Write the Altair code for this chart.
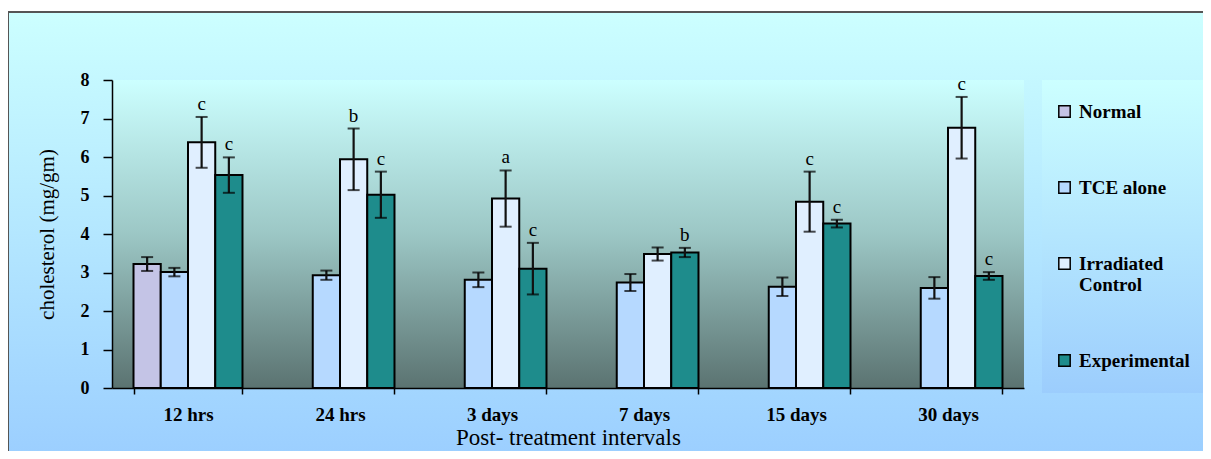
import altair as alt
import pandas as pd

categories = ["12 hrs", "24 hrs", "3 days", "7 days", "15 days", "30 days"]
groups = ["Normal", "TCE alone", "Irradiated Control", "Experimental"]

normal_mean = [3.22]
normal_err = [0.18]
tce_mean = [3.01, 2.93, 2.81, 2.74, 2.63, 2.60]
tce_err = [0.11, 0.12, 0.19, 0.22, 0.24, 0.28]
irr_mean = [6.38, 5.94, 4.92, 3.48, 4.84, 6.76]
irr_err = [0.66, 0.80, 0.73, 0.17, 0.78, 0.80]
exp_mean = [5.53, 5.02, 3.10, 3.52, 4.27, 2.91]
exp_err = [0.46, 0.60, 0.67, 0.12, 0.10, 0.10]
irr_letters = ["c", "b", "a", "", "c", "c"]
exp_letters = ["c", "c", "c", "b", "c", "c"]

group_colors = ["#c4c4e6", "#b6d9ff", "#e0efff", "#1e8c8c"]

rows = [dict(cat=categories[0], grp=groups[0], m=normal_mean[0], e=normal_err[0], letter="")]
for i, c in enumerate(categories):
    rows.append(dict(cat=c, grp=groups[1], m=tce_mean[i], e=tce_err[i], letter=""))
    rows.append(dict(cat=c, grp=groups[2], m=irr_mean[i], e=irr_err[i], letter=irr_letters[i]))
    rows.append(dict(cat=c, grp=groups[3], m=exp_mean[i], e=exp_err[i], letter=exp_letters[i]))
df = pd.DataFrame(rows)
df["lo"] = df["m"] - df["e"]
df["hi"] = df["m"] + df["e"]

FONT = "Liberation Serif"
W, H = 912, 308

x_axis = alt.Axis(
    title="Post- treatment intervals", labelAngle=0, tickBand="extent", zindex=2,
    domainColor="black", domainWidth=1.5, tickColor="black", tickWidth=1.5, tickSize=6,
    labelFont=FONT, labelFontSize=19, labelFontWeight="bold", labelColor="black", labelPadding=11,
    titleFont=FONT, titleFontSize=23, titleFontWeight="normal", titleColor="black", titlePadding=2,
)
y_axis = alt.Axis(
    title="cholesterol (mg/gm)", values=list(range(0, 9)), grid=False, zindex=2,
    domainColor="black", domainWidth=1.5, tickColor="black", tickWidth=1.5, tickSize=9,
    labelFont=FONT, labelFontSize=18, labelFontWeight="bold", labelColor="black", labelPadding=14,
    titleFont=FONT, titleFontSize=21, titleFontWeight="normal", titleColor="black", titlePadding=23,
)
y_scale = alt.Scale(domain=[0, 8], nice=False)

base = alt.Chart(df).encode(
    x=alt.X("cat:N", sort=categories, axis=x_axis,
            scale=alt.Scale(domain=categories, paddingInner=0.283, paddingOuter=0.1415)),
    xOffset=alt.XOffset("grp:N", sort=groups,
                        scale=alt.Scale(domain=groups, paddingInner=0, paddingOuter=0)),
)

bars = base.mark_bar(stroke="black", strokeWidth=2).encode(
    y=alt.Y("m:Q", scale=y_scale, axis=y_axis),
    color=alt.Color(
        "grp:N", sort=groups,
        scale=alt.Scale(domain=groups, range=group_colors),
        legend=alt.Legend(
            title=None, orient="none", legendX=943, legendY=22, direction="vertical",
            symbolType="square", symbolSize=130, symbolStrokeColor="black", symbolStrokeWidth=1.5,
            labelFont=FONT, labelFontSize=19, labelFontWeight="bold", labelColor="black",
            labelOffset=5, rowPadding=56, padding=0, labelLimit=200,
            labelExpr="datum.label == 'Irradiated Control' ? ['Irradiated', 'Control'] : datum.label",
        ),
    ),
)

stems = base.mark_rule(color="#111111", strokeWidth=2.2).encode(
    y=alt.Y("lo:Q", scale=y_scale, axis=y_axis), y2="hi:Q"
)
caps_hi = base.mark_tick(color="black", size=12, thickness=2, orient="horizontal").encode(
    y=alt.Y("hi:Q", scale=y_scale, axis=y_axis)
)
caps_lo = base.mark_tick(color="black", size=12, thickness=2, orient="horizontal").encode(
    y=alt.Y("lo:Q", scale=y_scale, axis=y_axis)
)
letters = base.mark_text(font=FONT, fontSize=19, color="black", baseline="alphabetic", dy=-7).encode(
    y=alt.Y("hi:Q", scale=y_scale, axis=y_axis), text="letter:N"
)

one = pd.DataFrame({"k": [0]})
outer_grad = alt.LinearGradient(
    gradient="linear", x1=0, x2=0, y1=0, y2=1,
    stops=[alt.GradientStop(offset=0, color="#ccffff"), alt.GradientStop(offset=1, color="#99ccff")],
)
legend_grad = alt.LinearGradient(
    gradient="linear", x1=0, x2=0, y1=0, y2=1,
    stops=[alt.GradientStop(offset=0, color="#ccffff"), alt.GradientStop(offset=1, color="#9ccdfd")],
)
plot_grad = alt.LinearGradient(
    gradient="linear", x1=0, x2=0, y1=0, y2=1,
    stops=[alt.GradientStop(offset=0, color="#ccffff"),
           alt.GradientStop(offset=0.5, color="#9cc7c5"),
           alt.GradientStop(offset=1, color="#5b7371")],
)
outer_bg = alt.Chart(one).mark_rect(color=outer_grad, stroke="#555555", strokeWidth=2).encode(
    x=alt.value(-104), x2=alt.value(1110), y=alt.value(-68), y2=alt.value(400)
)
legend_bg = alt.Chart(one).mark_rect(color=legend_grad).encode(
    x=alt.value(930), x2=alt.value(1110), y=alt.value(0), y2=alt.value(313)
)
plot_bg = alt.Chart(one).mark_rect(color=plot_grad).encode(
    x=alt.value(0), x2=alt.value(W), y=alt.value(0), y2=alt.value(H)
)

chart = alt.layer(outer_bg, legend_bg, plot_bg, bars, stems, caps_hi, caps_lo, letters).properties(
    width=W, height=H,
    autosize=alt.AutoSizeParams(type="none"),
    padding={"left": 104, "top": 72, "right": 179, "bottom": 63},
    background="white",
).configure_view(stroke=None)

chart.save("out.html", embed_options={"renderer": "svg", "actions": False})
